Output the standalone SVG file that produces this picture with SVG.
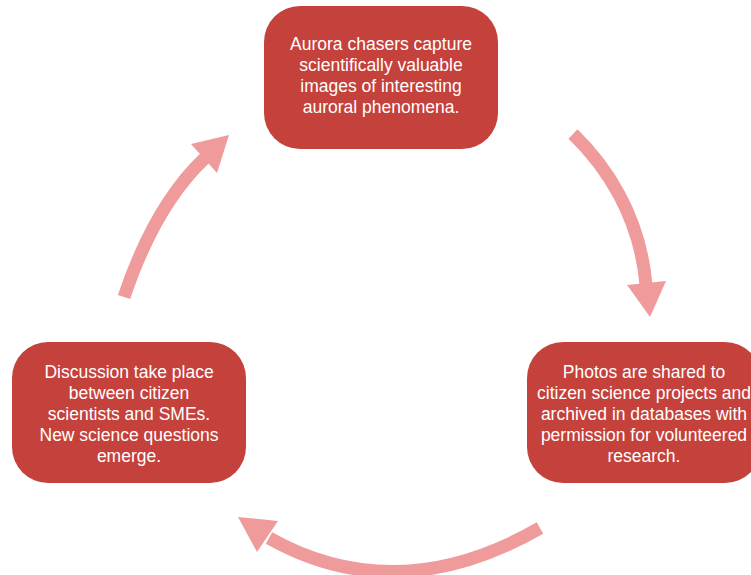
<svg xmlns="http://www.w3.org/2000/svg" width="751" height="575" viewBox="0 0 751 575">
<style>
.box{fill:#C5413B;}
.t{font-family:"Liberation Sans",Arial,sans-serif;font-size:17.5px;fill:#FFFFFF;text-anchor:middle;}
.shaft{fill:none;stroke:#EF9B9B;stroke-width:13;stroke-linecap:butt;}
.head{fill:#EF9B9B;}
</style>
<rect width="751" height="575" fill="#FFFFFF"/>
<g id="connectors">
<path class="shaft" d="M573,134 C605,165 640,215 646,285"/>
<polygon class="head" points="627,285 666,281 650,317"/>
<path class="shaft" d="M540,528 Q397,610 269,538"/>
<polygon class="head" points="238,517 278,521 257,552"/>
<path class="shaft" d="M124,297 Q155,205 205,158"/>
<polygon class="head" points="229,135 191,144 217,173"/>
</g>
<g id="node-top">
<rect class="box" x="264" y="6" width="234" height="143" rx="36" ry="36"/>
<text class="t" x="381" y="50">Aurora chasers capture</text>
<text class="t" x="381" y="71">scientifically valuable</text>
<text class="t" x="381" y="92">images of interesting</text>
<text class="t" x="381" y="113">auroral phenomena.</text>
</g>
<g id="node-right">
<rect class="box" x="527" y="342" width="234" height="141" rx="36" ry="36"/>
<text class="t" x="644" y="378">Photos are shared to</text>
<text class="t" x="644" y="399">citizen science projects and</text>
<text class="t" x="644" y="420">archived in databases with</text>
<text class="t" x="644" y="441">permission for volunteered</text>
<text class="t" x="644" y="462">research.</text>
</g>
<g id="node-left">
<rect class="box" x="12" y="342" width="234" height="141" rx="36" ry="36"/>
<text class="t" x="129" y="378">Discussion take place</text>
<text class="t" x="129" y="399">between citizen</text>
<text class="t" x="129" y="420">scientists and SMEs.</text>
<text class="t" x="129" y="441">New science questions</text>
<text class="t" x="129" y="462">emerge.</text>
</g>
</svg>
